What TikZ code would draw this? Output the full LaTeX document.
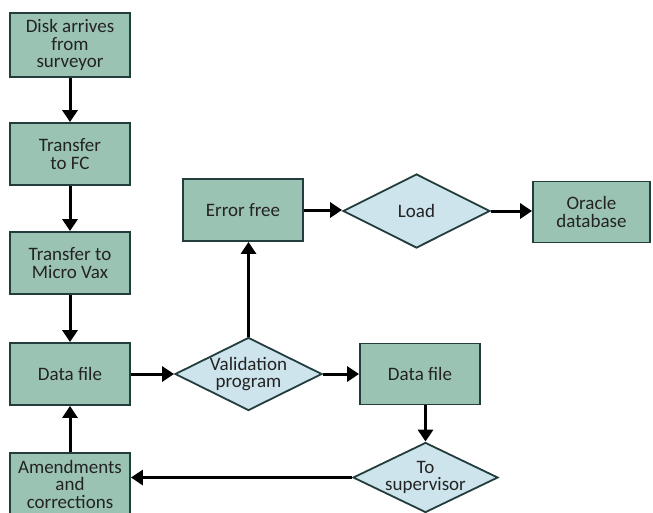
\documentclass[tikz,border=0pt]{standalone}
\usepackage{fontspec}
\setmainfont{Carlito}
\usetikzlibrary{shapes.geometric,arrows.meta}
\definecolor{boxfill}{RGB}{155,195,180}
\definecolor{diafill}{RGB}{205,228,236}
\definecolor{edgecol}{RGB}{35,60,60}
\definecolor{txt}{RGB}{35,35,35}
\begin{document}
\begin{tikzpicture}[x=1pt,y=-1pt,
  font=\fontsize{19}{17.5}\selectfont,
  box/.style={draw=edgecol, line width=1.8pt, fill=boxfill, minimum width=120pt, minimum height=62pt, inner sep=1pt, align=center, text=txt},
  dia/.style={diamond, draw=edgecol, line width=1.8pt, fill=diafill, inner sep=0pt, minimum width=147pt, minimum height=73pt},
  dtext/.style={align=center, text=txt, inner sep=0pt},
  arr/.style={line width=3pt, -{Triangle[length=12pt,width=15pt]}, black}]
\useasboundingbox (0,0) rectangle (653,512);
\node[box, minimum height=64pt] (disk) at (70,45) {Disk arrives\\from\\surveyor};
\node[box] (fc) at (70,154) {Transfer\\to FC};
\node[box] (vax) at (70,263) {Transfer to\\Micro Vax};
\node[box] (df1) at (70,374) {Data file};
\node[box] (amd) at (70,484) {Amendments\\and\\corrections};
\node[dia, label={[dtext]center:{Validation\\program}}] (val) at (248.5,374) {};
\node[box] (ef) at (243,210) {Error free};
\node[dia, minimum height=74pt, label={[dtext]center:Load}] (load) at (416.5,211) {};
\node[box, minimum width=117pt, minimum height=61pt] (ora) at (591.5,212) {Oracle\\database};
\node[box, minimum height=61pt] (df2) at (420,374) {Data file};
\node[dia, minimum width=145pt, minimum height=70pt, label={[dtext]center:{To\\supervisor}}] (sup) at (425.5,477.5) {};
\draw[arr] (disk) -- (fc);
\draw[arr] (fc) -- (vax);
\draw[arr] (vax) -- (df1);
\draw[arr] (amd) -- (df1);
\draw[arr] (df1) -- (val);
\draw[arr] (val.north) -- (val.north |- ef.south);
\draw[arr] (ef.east) -- (ef.east -| load.west);
\draw[arr] (load.east) -- (load.east -| ora.west);
\draw[arr] (val) -- (df2);
\draw[arr] (df2.south -| sup.north) -- (sup.north);
\draw[arr] (sup.west) -- (sup.west -| amd.east);
\end{tikzpicture}
\end{document}
